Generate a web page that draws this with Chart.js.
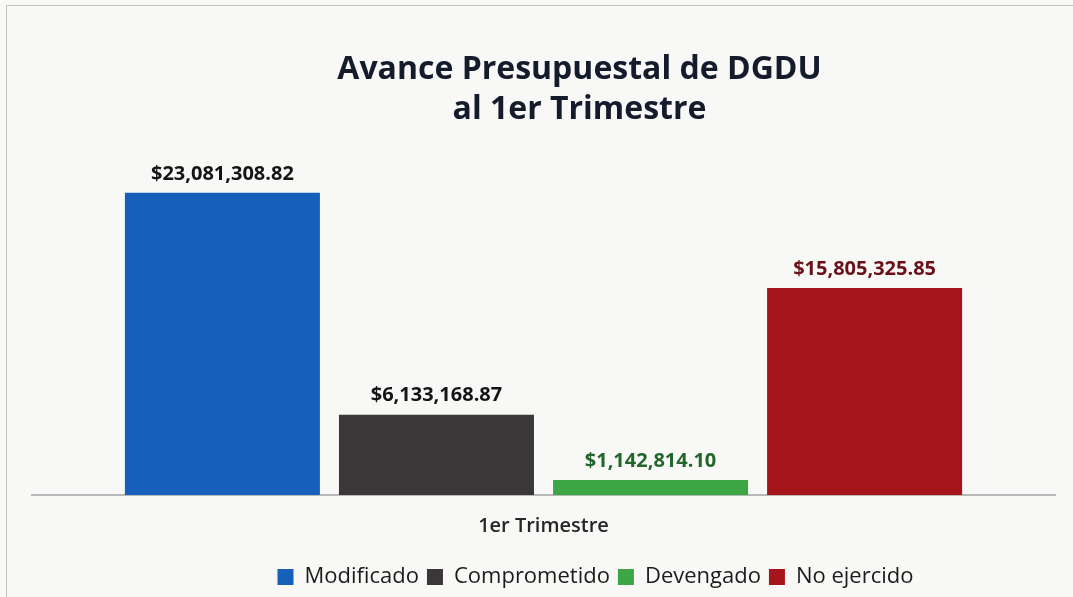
<!DOCTYPE html>
<html>
<head>
<meta charset="utf-8">
<script src="https://cdn.jsdelivr.net/npm/chart.js@4.4.1/dist/chart.umd.min.js"></script>
<style>
  html, body { margin: 0; padding: 0; background: #f8f8f6; }
  #wrap { position: relative; width: 1073px; height: 597px; overflow: hidden; }
  #frame { position: absolute; left: 6px; top: 5px; width: 1200px; height: 700px;
           border-left: 1px solid #c4c4c4; border-top: 1px solid #c4c4c4; }
  canvas { position: absolute; left: 0; top: 0; }
</style>
</head>
<body>
<div id="wrap">
  <div id="frame"></div>
  <canvas id="chart" width="1073" height="597"></canvas>
</div>
<script>
// chart data
const categories = ['1er Trimestre'];
const seriesNames = ['Modificado', 'Comprometido', 'Devengado', 'No ejercido'];
const seriesValues = [23081308.82, 6133168.87, 1142814.10, 15805325.85];
const barColors = ['#1660ba', '#3b3637', '#3ca645', '#a5151b'];
const labelColors = ['#141414', '#141414', '#21662a', '#6a1019'];

const fmt = v => '$' + v.toLocaleString('en-US', { minimumFractionDigits: 2, maximumFractionDigits: 2 });

// draw value labels above bars
const valueLabels = {
    id: 'valueLabels',
    afterDatasetsDraw(chart) {
        const ctx = chart.ctx;
        ctx.save();
        ctx.font = 'bold 20px "Open Sans"';
        ctx.textAlign = 'center';
        ctx.textBaseline = 'bottom';
        chart.data.datasets.forEach((ds, i) => {
            const meta = chart.getDatasetMeta(i);
            meta.data.forEach((bar, j) => {
                ctx.fillStyle = labelColors[i];
                ctx.fillText(fmt(ds.data[j]), bar.x, bar.y - 9);
            });
        });
        ctx.restore();
    }
};

// title and legend sit a bit right of centre in the original
const nudgeBoxes = {
    id: 'nudgeBoxes',
    afterLayout(chart) {
        const lg = chart.legend;
        if (lg) { lg.left += 52; lg.right += 52; lg.top += 9; lg.bottom += 9; }
        const tb = chart.titleBlock;
        if (tb) { tb.left += 36; tb.right += 36; }
    }
};

const ctx = document.getElementById('chart').getContext('2d');
new Chart(ctx, {
    type: 'bar',
    data: {
        labels: categories,
        datasets: seriesNames.map((name, i) => ({
            label: name,
            data: [seriesValues[i]],
            backgroundColor: barColors[i],
            borderWidth: 0
        }))
    },
    options: {
        responsive: false,
        animation: false,
        categoryPercentage: 0.837,
        barPercentage: 0.911,
        layout: { padding: { left: 32, right: 18, top: 0, bottom: 8 } },
        plugins: {
            title: {
                display: true,
                text: ['Avance Presupuestal de DGDU', 'al 1er Trimestre'],
                font: { family: '"Open Sans"', size: 32, weight: 'bold', lineHeight: 1.25 },
                color: '#141c2c',
                padding: { top: 50, bottom: 20 }
            },
            legend: {
                position: 'bottom',
                labels: {
                    font: { family: '"Open Sans"', size: 22 },
                    color: '#1c1c1c',
                    boxWidth: 16,
                    boxHeight: 16,
                    padding: 8
                }
            },
            tooltip: { enabled: false }
        },
        scales: {
            x: {
                grid: { display: false },
                border: { display: true, color: '#b8b8b8', width: 2 },
                ticks: { font: { family: '"Open Sans"', size: 20, weight: '600' }, color: '#262626', padding: 11 }
            },
            y: {
                display: false,
                min: 0,
                max: 26350000
            }
        }
    },
    plugins: [valueLabels, nudgeBoxes]
});
</script>
</body>
</html>
